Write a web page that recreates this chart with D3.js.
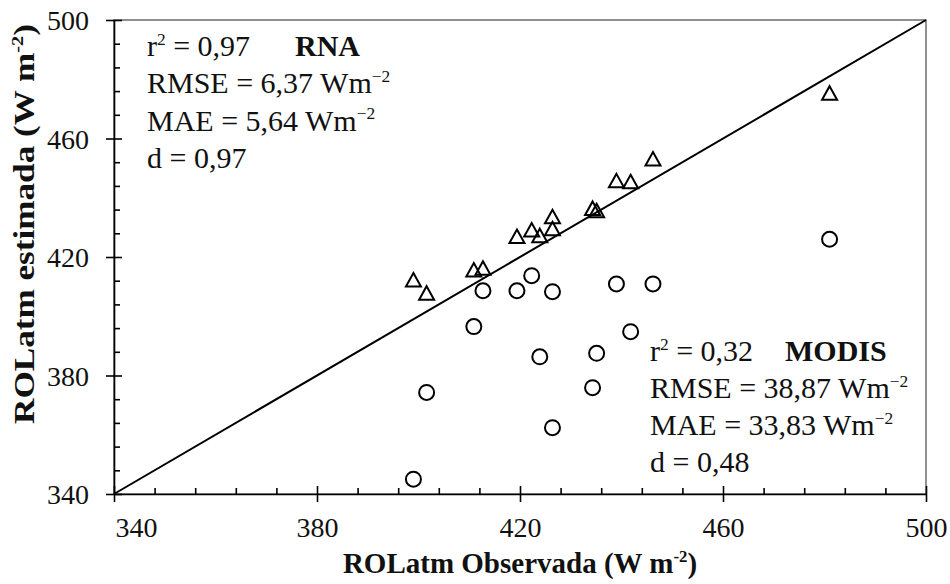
<!DOCTYPE html>
<html>
<head>
<meta charset="utf-8">
<script src="https://cdn.jsdelivr.net/npm/d3@7"></script>
<style>
  body { margin: 0; background: #fff; }
  svg { display: block; font-family: "Liberation Serif", "Times New Roman", serif; }
</style>
</head>
<body>
<div id="okvir"></div>
<script>
// valores (W m-2)
const observada = [399.0, 401.6, 410.9, 412.7, 419.4, 422.3, 423.9, 426.4, 426.4, 434.3, 435.1, 439.0, 441.8, 446.2, 481.0];
const rnaEstimada = [412.2, 407.8, 415.6, 416.2, 426.9, 429.1, 427.2, 433.6, 429.5, 436.4, 435.6, 445.7, 445.4, 453.1, 475.3];
const modisEstimada = [345.0, 374.3, 396.5, 408.6, 408.6, 413.7, 386.3, 408.3, 362.4, 375.9, 387.5, 410.9, 394.8, 410.9, 426.0];

const dominio = [340, 500];
const ticksMaiores = [340, 380, 420, 460, 500];
const ticksMenores = d3.range(340, 501, 8).filter(v => !ticksMaiores.includes(v));

const textoRna = [
  [{t: "r"}, {t: "2", sup: true}, {t: " = 0,97"}, {t: "RNA", bold: true, x: 295}],
  [{t: "RMSE = 6,37 Wm"}, {t: "\u22122", sup: true}],
  [{t: "MAE = 5,64 Wm"}, {t: "\u22122", sup: true}],
  [{t: "d = 0,97"}]
];
const textoModis = [
  [{t: "r"}, {t: "2", sup: true}, {t: " = 0,32"}, {t: "MODIS", bold: true, x: 785}],
  [{t: "RMSE = 38,87 Wm"}, {t: "\u22122", sup: true}],
  [{t: "MAE = 33,83 Wm"}, {t: "\u22122", sup: true}],
  [{t: "d = 0,48"}]
];

function crtaj() {
  const dim = {
    sirina: 950,
    visina: 584,
    margine: { top: 20, right: 24, bottom: 90, left: 114 }
  };
  dim.grSirina = dim.sirina - dim.margine.left - dim.margine.right;
  dim.grVisina = dim.visina - dim.margine.top - dim.margine.bottom;

  const svg = d3.select("#okvir").append("svg")
    .attr("width", dim.sirina)
    .attr("height", dim.visina);

  const g = svg.append("g")
    .attr("transform", `translate(${dim.margine.left},${dim.margine.top})`);

  const x = d3.scaleLinear().domain(dominio).range([0, dim.grSirina]);
  const y = d3.scaleLinear().domain(dominio).range([dim.grVisina, 0]);

  // moldura da area do grafico
  g.append("rect")
    .attr("width", dim.grSirina)
    .attr("height", dim.grVisina)
    .attr("fill", "none")
    .attr("stroke", "#555")
    .attr("stroke-width", 1.3);

  // linha 1:1
  g.append("line")
    .attr("x1", x(dominio[0])).attr("y1", y(dominio[0]))
    .attr("x2", x(dominio[1])).attr("y2", y(dominio[1]))
    .attr("stroke", "#000")
    .attr("stroke-width", 2);

  // eixo x
  const xOs = g.append("g").attr("transform", `translate(0,${dim.grVisina})`);
  xOs.call(d3.axisBottom(x).tickValues(ticksMaiores).tickSize(8).tickSizeOuter(0));
  xOs.call(g2 => g2.selectAll(".tick").append("line").attr("y2", -8).attr("stroke", "#000"));
  xOs.append("g").call(d3.axisBottom(x).tickValues(ticksMenores).tickSize(-6).tickFormat(""))
    .call(s => s.select(".domain").remove());
  xOs.selectAll("text")
    .attr("y", 43).attr("dy", 0)
    .attr("font-size", 28)
    .attr("font-family", "Liberation Serif")
    .attr("fill", "#111");
  // o primeiro rotulo fica a direita do eixo y
  xOs.selectAll(".tick text").filter(d => d === dominio[0]).attr("dx", 22);

  // eixo y
  const yOs = g.append("g");
  yOs.call(d3.axisLeft(y).tickValues(ticksMaiores).tickSize(8).tickSizeOuter(0));
  yOs.call(g2 => g2.selectAll(".tick").append("line").attr("x2", 8).attr("stroke", "#000"));
  yOs.append("g").call(d3.axisLeft(y).tickValues(ticksMenores).tickSize(-6).tickFormat(""))
    .call(s => s.select(".domain").remove());
  yOs.selectAll("text")
    .attr("x", -25).attr("dy", "0.34em")
    .attr("font-size", 28)
    .attr("font-family", "Liberation Serif")
    .attr("fill", "#111");

  svg.selectAll(".domain, .tick line").attr("stroke", "#000").attr("stroke-width", 1.6);

  // pontos MODIS (circulos)
  g.selectAll("circle.modis")
    .data(observada.map((o, i) => ({ o, e: modisEstimada[i] })))
    .join("circle")
      .attr("class", "modis")
      .attr("cx", d => x(d.o))
      .attr("cy", d => y(d.e))
      .attr("r", 7.5)
      .attr("fill", "none")
      .attr("stroke", "#000")
      .attr("stroke-width", 2);

  // pontos RNA (triangulos)
  const tri = "M0,-7L7.5,6.5L-7.5,6.5Z";
  g.selectAll("path.rna")
    .data(observada.map((o, i) => ({ o, e: rnaEstimada[i] })))
    .join("path")
      .attr("class", "rna")
      .attr("d", tri)
      .attr("transform", d => `translate(${x(d.o)},${y(d.e)})`)
      .attr("fill", "none")
      .attr("stroke", "#000")
      .attr("stroke-width", 2);

  // texto com sobrescrito
  function escreve(sel, partes, tam) {
    let subiu = false;
    partes.forEach(p => {
      const ts = sel.append("tspan").text(p.t);
      if (p.bold) ts.attr("font-weight", "bold");
      if (p.x != null) ts.attr("x", p.x);
      if (p.sup) {
        ts.attr("font-size", tam * 0.58).attr("dy", -tam * 0.38);
        subiu = true;
      } else if (subiu) {
        ts.attr("dy", tam * 0.38);
        subiu = false;
      }
    });
  }

  function bloco(linhas, x0, y0, passo) {
    linhas.forEach((l, i) => {
      const t = svg.append("text")
        .attr("x", x0)
        .attr("y", y0 + i * passo)
        .attr("font-size", 30)
        .attr("fill", "#111");
      escreve(t, l, 30);
    });
  }
  bloco(textoRna, 147, 56, 37.3);
  bloco(textoModis, 650, 361, 37);

  // titulos dos eixos
  const xTit = svg.append("text")
    .attr("x", dim.margine.left + dim.grSirina / 2)
    .attr("y", 573)
    .attr("text-anchor", "middle")
    .attr("font-size", 29)
    .attr("font-weight", "bold")
    .attr("fill", "#111");
  escreve(xTit, [{t: "ROLatm Observada (W m"}, {t: "-2", sup: true}, {t: ")"}], 29);

  const yTit = svg.append("text")
    .attr("transform", "rotate(-90)")
    .attr("x", -224)
    .attr("y", 34)
    .attr("text-anchor", "middle")
    .attr("font-size", 30)
    .attr("font-weight", "bold")
    .attr("fill", "#111")
    .attr("textLength", 400)
    .attr("lengthAdjust", "spacingAndGlyphs");
  escreve(yTit, [{t: "ROLatm estimada (W m"}, {t: "-2", sup: true}, {t: ")"}], 30);
}

crtaj();
</script>
</body>
</html>
